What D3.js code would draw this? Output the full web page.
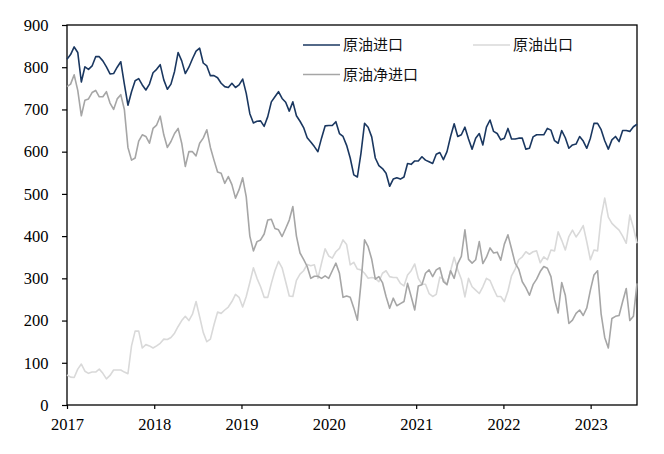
<!DOCTYPE html>
<html>
<head>
<meta charset="utf-8">
<script src="https://cdn.jsdelivr.net/npm/d3@7"></script>
<style>
  body { margin: 0; background: #fff; }
  .axis text { font-family: "Liberation Serif", "Times New Roman", serif; font-size: 16.5px; fill: #000; }
  .axis line { stroke: #000; stroke-width: 1.2; }
  .legend text { font-family: "Noto Sans CJK SC", sans-serif; font-size: 15px; fill: #111; }
</style>
</head>
<body>
<svg id="chart"></svg>
<script>
// roughly one reading every 15 days, Jan 2017 - Jul 2023
const startDate = new Date(2017, 0, 1);
const stepDays = 15;

const imports = [
  819, 830, 848, 835, 765, 801, 795, 803, 825, 825,
  815, 801, 784, 785, 800, 813, 760, 710, 742, 768,
  773, 758, 746, 760, 787, 795,
  806, 770, 748, 760,
  790, 835, 815, 785, 800, 820, 838, 845, 810, 803,
  780, 780, 775, 762, 754, 752, 762, 752, 758, 772,
  738, 690, 668,
  672, 673, 660, 683, 718, 730, 742,
  726, 717, 696, 718, 685, 672, 657, 633, 623, 612,
  600, 632, 661, 662, 662, 671, 643, 636, 615,
  585, 545, 540, 596, 667, 658, 635, 585, 567, 560, 549,
  518, 535, 538, 535, 540, 572, 570, 578, 578, 588,
  580, 576, 572, 594, 598, 581,
  600, 636, 666, 636,
  640, 658, 630, 606, 632, 643, 616, 658, 675, 648,
  643, 628, 632, 655, 630, 630, 632, 632, 606, 608,
  635, 640,
  640, 640, 655, 651, 626, 620, 650, 633,
  608, 616, 618, 636, 625, 608, 632, 667, 667, 652,
  626, 606, 628, 636, 624, 650, 650, 648, 659, 665
];

const exports = [
  71, 66, 65, 85, 97, 80, 75, 78, 78, 85,
  75, 62, 70, 83, 83, 83, 78, 74, 140, 175,
  175, 135, 143, 140, 135, 140,
  146, 156, 155, 160,
  170, 186, 200, 210, 200, 215, 245, 209, 172, 150,
  156, 190, 220, 217, 225, 232, 245, 262, 255, 232,
  257, 290, 325,
  300, 280, 255, 255, 288, 318, 340,
  325, 292, 258, 257, 295, 310, 318, 333, 330, 332,
  300, 336, 370, 353, 348, 363, 371, 391, 380,
  332, 338, 322, 320, 312, 300, 302, 300, 292, 312, 318,
  304, 302, 302, 288, 282, 308, 318, 334, 300, 286,
  286, 264, 257, 262, 303, 298,
  285, 318, 350, 320,
  298, 256, 300, 280, 272, 264, 280, 300, 295, 275,
  257, 257, 245, 270, 306, 322, 344, 351, 363, 357,
  363, 365,
  337, 351, 344, 367, 365, 410, 390, 367,
  399, 414, 398, 410, 425, 386, 344, 367, 365, 445,
  490, 445, 430, 422, 414, 400, 383, 450, 420, 383
];

const netImports = [
  754, 760, 782, 745, 685, 722, 725, 740, 745, 730,
  730, 742, 715, 700, 725, 735, 700, 610, 580, 585,
  625, 640, 636, 620, 655, 663,
  684, 640, 610, 624,
  643, 655, 620, 565, 600, 600, 590, 620, 632, 652,
  610, 580, 552, 549, 525, 541, 522, 490, 510, 538,
  493, 400, 365,
  387, 391, 405, 438, 440, 418, 415,
  399, 418, 438, 470, 400, 360, 345, 328, 300, 305,
  305, 300, 306, 300, 318, 336, 312, 255, 258,
  255, 230, 201, 288, 391, 375, 345, 298, 304, 290, 257,
  229, 253, 235, 240, 245, 288, 257, 225, 282, 285,
  312, 320, 304, 320, 325, 292,
  285, 318, 300, 335,
  352, 415, 345, 336, 344, 387, 335, 350, 372, 360,
  362, 343, 381, 403, 370, 336, 322, 292, 278, 260,
  285, 298,
  316, 328, 324, 304, 250, 218, 290, 260,
  193, 201, 217, 225, 212, 230, 272, 308, 318, 215,
  160, 135, 205, 210, 212, 245, 276, 200, 210, 288
];

const yTicks = [0, 100, 200, 300, 400, 500, 600, 700, 800, 900];

const dates = imports.map((_, i) => d3.timeDay.offset(startDate, i * stepDays));

const margin = { top: 25, right: 27, bottom: 49, left: 67 },
      width = 664 - margin.left - margin.right,
      height = 454 - margin.top - margin.bottom;

const svg = d3.select("#chart")
    .attr("width", 664)
    .attr("height", 454)
    .append("g")
    .attr("transform", `translate(${margin.left},${margin.top})`);

const x = d3.scaleTime()
    .domain([startDate, dates[dates.length - 1]])
    .range([0, width]);

const y = d3.scaleLinear()
    .domain([0, 900])
    .range([height, 0]);

// axes
svg.append("g")
    .attr("class", "axis")
    .attr("transform", `translate(0,${height})`)
    .call(d3.axisBottom(x).ticks(d3.timeYear).tickFormat(d3.timeFormat("%Y")).tickSize(4).tickPadding(9))
    .call(g => g.select(".domain").remove());

svg.append("g")
    .attr("class", "axis")
    .call(d3.axisLeft(y).tickValues(yTicks).tickSize(5).tickPadding(13.5))
    .call(g => g.select(".domain").remove());

// frame
svg.append("rect")
    .attr("width", width)
    .attr("height", height)
    .attr("fill", "none")
    .attr("stroke", "#000")
    .attr("stroke-width", 1.3);

const line = d3.line()
    .x((d, i) => x(dates[i]))
    .y(d => y(d));

const series = [
  { name: "原油出口", values: exports, color: "#d9d9d9" },
  { name: "原油净进口", values: netImports, color: "#a6a6a6" },
  { name: "原油进口", values: imports, color: "#1a3760" }
];

svg.selectAll(".series")
    .data(series)
    .enter().append("path")
    .attr("class", "series")
    .attr("fill", "none")
    .attr("stroke", d => d.color)
    .attr("stroke-width", 1.6)
    .attr("stroke-linejoin", "round")
    .attr("d", d => line(d.values));

// legend
const legendItems = [
  { name: "原油进口", color: "#1a3760", lx: 303, ly: 45 },
  { name: "原油出口", color: "#d9d9d9", lx: 473, ly: 45 },
  { name: "原油净进口", color: "#a6a6a6", lx: 303, ly: 74.5 }
];

const legend = d3.select("#chart").append("g").attr("class", "legend");

legendItems.forEach(d => {
  legend.append("line")
      .attr("x1", d.lx).attr("x2", d.lx + 37)
      .attr("y1", d.ly).attr("y2", d.ly)
      .attr("stroke", d.color)
      .attr("stroke-width", 1.6);
  legend.append("text")
      .attr("x", d.lx + 40)
      .attr("y", d.ly)
      .attr("dy", "0.36em")
      .text(d.name);
});
</script>
</body>
</html>
